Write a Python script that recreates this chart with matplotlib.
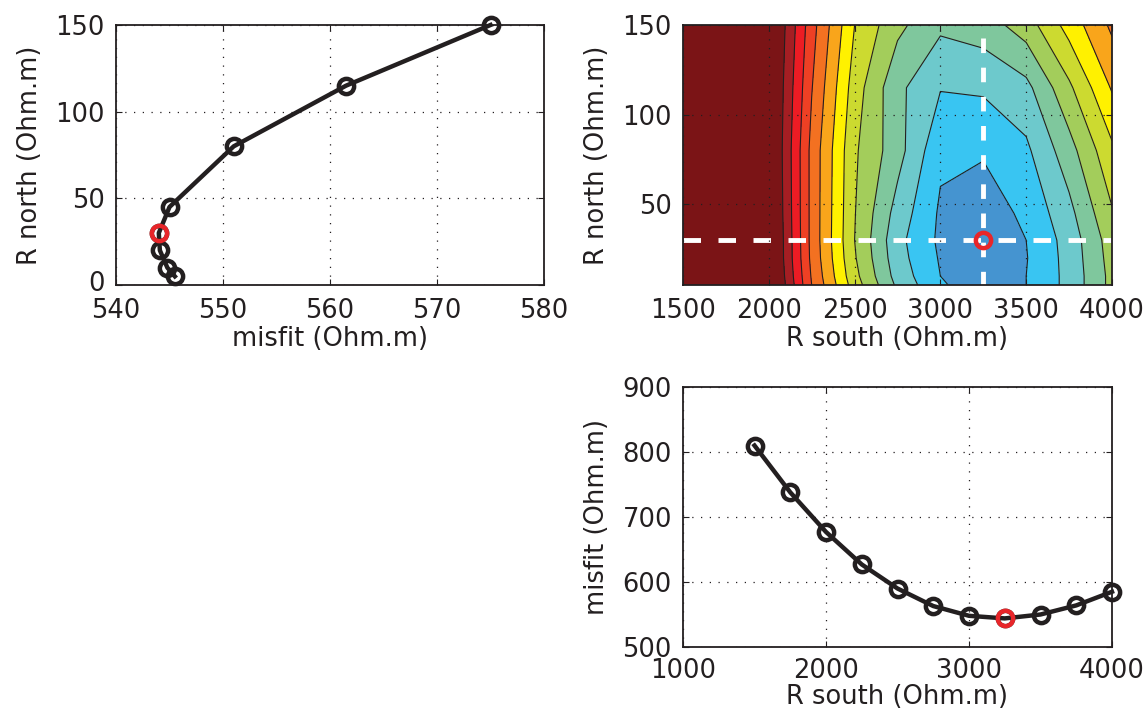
import numpy as np
import matplotlib
matplotlib.use("Agg")
import matplotlib.pyplot as plt
import matplotlib.transforms as mtransforms

plt.rcParams["font.family"] = ["DejaVu Sans"]
plt.rcParams["font.size"] = 18.5
plt.rcParams["text.color"] = "#231f20"
plt.rcParams["axes.labelcolor"] = "#231f20"
plt.rcParams["xtick.color"] = "#231f20"
plt.rcParams["ytick.color"] = "#231f20"

# model grid
r_south = [1500, 1750, 2000, 2250, 2500, 2750, 3000, 3250, 3500, 3750, 4000]
r_north = [5, 10, 20, 30, 45, 80, 115, 150]

# misfit (rows = r_north, columns = r_south)
misfit_grid = [
    [812, 740, 679, 630.0, 595.0, 568.0, 551.0, 545.5, 550.0, 563.0, 583],
    [811, 739, 678, 629.0, 593.0, 566.0, 550.0, 544.8, 550.0, 563.0, 583],
    [810, 738, 677, 627.5, 591.0, 564.0, 549.0, 544.1, 549.5, 563.5, 584],
    [810, 738, 677, 627.0, 590.0, 563.0, 548.0, 544.0, 550.0, 564.0, 585],
    [809, 737, 676, 627.0, 590.5, 566.0, 548.5, 545.0, 552.0, 567.0, 589],
    [808, 736, 675, 627.0, 591.5, 574.0, 552.0, 551.0, 558.0, 576.0, 598],
    [806, 735, 675, 630.5, 595.0, 572.5, 560.5, 561.5, 567.0, 588.0, 611],
    [805, 735, 676, 634.0, 600.0, 582.5, 572.0, 575.0, 585.0, 604.0, 622],
]

best_south = 3250
best_north = 30

contour_levels = [550, 560, 570, 580, 590, 600, 610, 620, 630, 640, 650, 660]
band_colors = ["#4594d0", "#39c5f2", "#6dc9cc", "#7fc79d", "#a3cd5b", "#ccda30",
               "#fff100", "#f9a51b", "#f37121", "#ee4024", "#ec1c24", "#a51e23",
               "#7b1416"]

INK = "#231f20"
RED = "#e8262a"

Z = np.array(misfit_grid)
i_best_s = r_south.index(best_south)
i_best_n = r_north.index(best_north)
misfit_vs_north = Z[:, i_best_s]
misfit_vs_south = Z[i_best_n, :]


def matlab_axes(ax):
    ax.grid(True, color=INK, linewidth=0.9, linestyle=(0, (1, 6)))
    ax.tick_params(direction="in", top=True, right=True, length=4,
                   width=0.8, labelsize=18.5, pad=8)
    ax.tick_params(axis="x", pad=9)
    for s in ax.spines.values():
        s.set_linewidth(1.3)
        s.set_color(INK)


fig = plt.figure(figsize=(11.47, 7.11), dpi=100)
W, H = 1147.0, 711.0
ax1 = fig.add_axes([116 / W, 1 - 285 / H, 428 / W, 260 / H])
ax2 = fig.add_axes([683 / W, 1 - 285 / H, 429 / W, 260 / H])
ax3 = fig.add_axes([683 / W, 1 - 647 / H, 429 / W, 260 / H])

line_kw = dict(color=INK, lw=3.2, marker="o", ms=11, mfc="none", mew=3.2)
best_kw = dict(ls="none", marker="o", ms=11, mfc="none", mec=RED, mew=3.2, zorder=5)

# top left: misfit versus R north
ax1.plot(misfit_vs_north, r_north, **line_kw)
ax1.plot(Z[i_best_n, i_best_s], best_north, **best_kw)
ax1.set_xlim(540, 580)
ax1.set_ylim(0, 150)
ax1.set_xticks([540, 550, 560, 570, 580])
ax1.set_yticks([0, 50, 100, 150])
ax1.set_xlabel("misfit (Ohm.m)", labelpad=2)
ax1.set_ylabel("R north (Ohm.m)", labelpad=9)
matlab_axes(ax1)

# keep the "0" clear of the "540" below it
fig.canvas.draw()
lift = mtransforms.ScaledTranslation(0, 4 / 100.0, fig.dpi_scale_trans)
ax1.get_yticklabels()[0].set_transform(ax1.get_yticklabels()[0].get_transform() + lift)

# top right: misfit map
lo, hi = Z.min() - 1, Z.max() + 1
ax2.contourf(r_south, r_north, Z, levels=[lo] + contour_levels + [hi], colors=band_colors)
ax2.contour(r_south, r_north, Z, levels=contour_levels, colors=INK, linewidths=0.8)
ax2.plot([r_south[0], r_south[-1]], [best_north, best_north], color="white",
         lw=3.5, dashes=(3.6, 3.6))
ax2.plot([best_south, best_south], [143, r_north[0]], color="white",
         lw=3.5, dashes=(3.0, 3.0))
ax2.plot(best_south, best_north, **best_kw)
ax2.set_xlim(1500, 4000)
ax2.set_ylim(5, 150)
ax2.set_xticks([1500, 2000, 2500, 3000, 3500, 4000])
ax2.set_yticks([50, 100, 150])
ax2.set_xlabel("R south (Ohm.m)", labelpad=2)
ax2.set_ylabel("R north (Ohm.m)", labelpad=9)
matlab_axes(ax2)
ax2.set_axisbelow(False)

# bottom right: misfit versus R south
ax3.plot(r_south, misfit_vs_south, **line_kw)
ax3.plot(best_south, Z[i_best_n, i_best_s], **best_kw)
ax3.set_xlim(1000, 4000)
ax3.set_ylim(500, 900)
ax3.set_xticks([1000, 2000, 3000, 4000])
ax3.set_yticks([500, 600, 700, 800, 900])
ax3.set_xlabel("R south (Ohm.m)", labelpad=0)
ax3.set_ylabel("misfit (Ohm.m)", labelpad=9)
matlab_axes(ax3)
ax3.tick_params(axis="x", pad=8)
for a in (ax1, ax3):
    for l in a.lines:
        l.set_clip_on(False)

fig.savefig("out.png", dpi=100)
